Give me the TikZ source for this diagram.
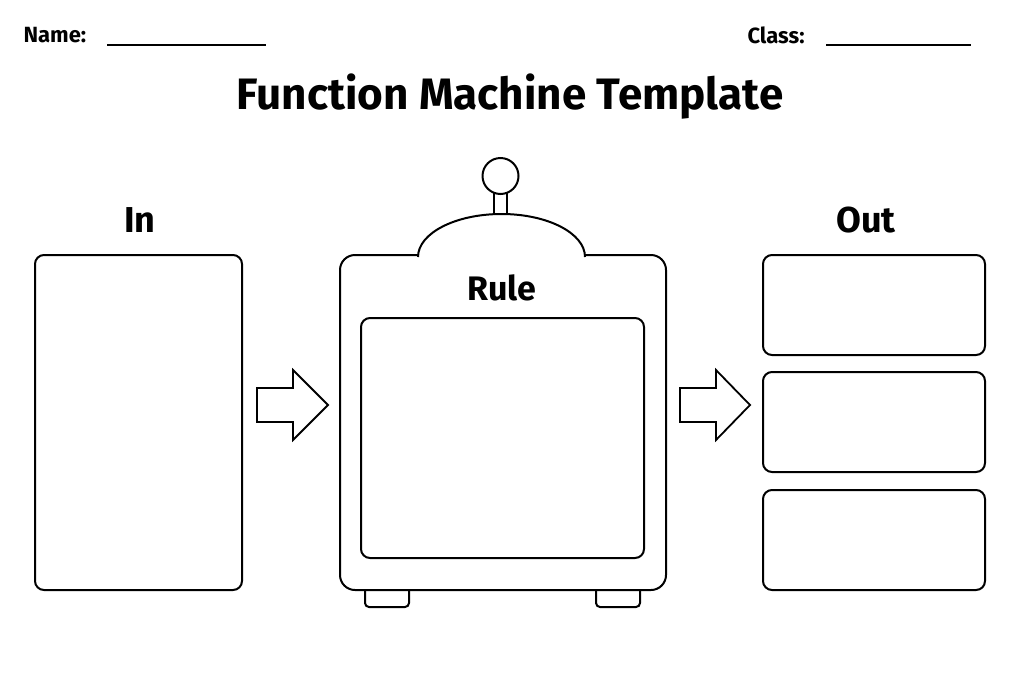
\documentclass[tikz,border=0pt]{standalone}
\usepackage{fontspec}
\setmainfont{Fira Sans}
\begin{document}
\begin{tikzpicture}[x=1pt,y=-1pt,
  box/.style={draw,line width=2pt,rounded corners=9pt,fill=white},
  lbl/.style={font=\fontsize{36}{40}\selectfont\bfseries},
  hdr/.style={font=\fontsize{22}{26}\selectfont\bfseries,anchor=west},
  arr/.style={draw,line width=1.8pt,fill=white,line join=miter}]
\useasboundingbox (0,0) rectangle (1024,683);
\node[hdr] (name) at (20,35) {Name:};
\draw[line width=1.5pt] (107,45) coordinate (n1) -- (266,45) coordinate (n2);
\node[hdr] (class) at (744,35) {Class:};
\draw[line width=1.5pt] (826,45) coordinate (c1) -- (971,45) coordinate (c2);
\node[font=\fontsize{44}{50}\selectfont\bfseries] (title) at (510,97) {Function Machine Template};
\node[lbl] (in) at (140,220) {In};
\node[lbl] (out) at (866,220) {Out};
\node[box,minimum width=207pt,minimum height=335pt] (inbox) at (138.5,422.5) {};
% feet
\draw[box,rounded corners=4pt] (365,580) rectangle (409,607);
\draw[box,rounded corners=4pt] (596,580) rectangle (640,607);
% antenna
\draw[line width=2pt,fill=white] (494,188) rectangle (507,222);
\node[draw,circle,line width=2pt,minimum size=36pt,fill=white] (ball) at (500.5,176) {};
% body
\node[box,rounded corners=15pt,minimum width=326pt,minimum height=335pt] (body) at (503,422.5) {};
\draw[line width=2pt,fill=white] (418,257) arc[start angle=180,end angle=360,x radius=83.5,y radius=43];
\fill[white] (420,254) rectangle (583,258);
\node[font=\fontsize{34}{40}\selectfont\bfseries] (rule) at (502,288) {Rule};
\node[box,minimum width=283pt,minimum height=240pt] (screen) at (502.5,438) {};
% arrows
\draw[arr] (257,388) -- (293,388) -- (293,370) -- (328,405) -- (293,440) -- (293,422) -- (257,422) -- cycle;
\draw[arr] (680,388) -- (716,388) -- (716,370) -- (750,405) -- (716,440) -- (716,422) -- (680,422) -- cycle;
\node[box,minimum width=222pt,minimum height=100pt] (o1) at (874,305) {};
\node[box,minimum width=222pt,minimum height=100pt] (o2) at (874,422) {};
\node[box,minimum width=222pt,minimum height=100pt] (o3) at (874,540) {};
\end{tikzpicture}
\end{document}
